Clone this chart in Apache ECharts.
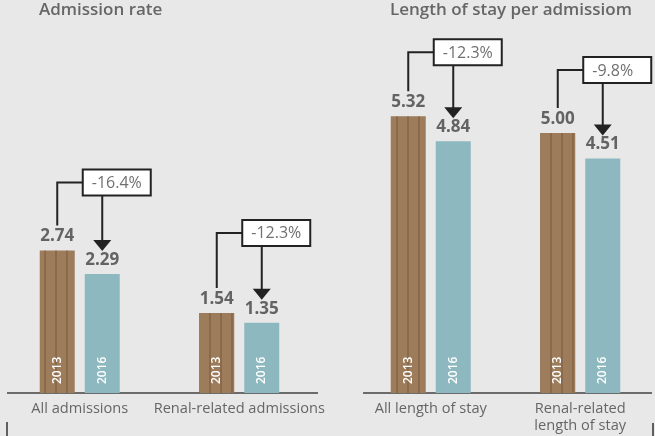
<!DOCTYPE html>
<html>
<head>
<meta charset="utf-8">
<script src="https://cdn.jsdelivr.net/npm/echarts@6/dist/echarts.min.js"></script>
<style>
  html, body { margin: 0; padding: 0; background: #e8e8e8; }
  #chart { width: 655px; height: 436px; }
</style>
</head>
<body>
<div id="chart"></div>
<script>
// 数据
var rateCategories = ["All admissions", "Renal-related admissions"];
var rate2013 = [2.74, 1.54];
var rate2016 = [2.29, 1.35];
var rateChange = ["-16.4%", "-12.3%"];

var stayCategories = ["All length of stay", "Renal-related\nlength of stay"];
var stay2013 = [5.32, 5.0];
var stay2016 = [4.84, 4.51];
var stayChange = ["-12.3%", "-9.8%"];

var years = ["2013", "2016"];

var FONT = "'Open Sans', 'DejaVu Sans', sans-serif";
var BROWN = "#9d7c5c";
var TEAL = "#8eb8bf";
var INK = "#222222";
var GREY = "#666666";
var BAR_W = 35;
var HALF = 22.5; // 两根柱子中心到类目中心的距离

// 标注框的高度（像素），每个面板一组
var liftLeft = [68, 80];
var liftRight = [64, 63];

function yearLabel(txt) {
  return {
    show: true,
    position: "insideBottom",
    rotate: 90,
    align: "left",
    verticalAlign: "middle",
    distance: 9,
    formatter: txt,
    color: "#ffffff",
    fontFamily: FONT,
    fontSize: 12,
    fontWeight: 600,
  };
}

function barPair(axis, a, b) {
  return [
    {
      name: years[0],
      type: "bar",
      xAxisIndex: axis,
      yAxisIndex: axis,
      barWidth: BAR_W,
      barGap: "28.6%",
      itemStyle: {
        color: BROWN,
        decal: {
          symbol: "rect",
          symbolSize: 1,
          color: "rgba(120,88,58,0.5)",
          dashArrayX: [2, 9],
          dashArrayY: [1, 0],
          rotation: 0,
        },
      },
      label: yearLabel(years[0]),
      data: a,
    },
    {
      name: years[1],
      type: "bar",
      xAxisIndex: axis,
      yAxisIndex: axis,
      barWidth: BAR_W,
      itemStyle: { color: TEAL },
      label: yearLabel(years[1]),
      data: b,
    },
  ];
}

// 数值 + 标注框 + 箭头
function callout(axis, a, b, change, lift) {
  var data = [];
  for (var i = 0; i < a.length; i++) {
    data.push([i, a[i], b[i]]);
  }
  return {
    type: "custom",
    xAxisIndex: axis,
    yAxisIndex: axis,
    z: 5,
    silent: true,
    encode: { x: 0, y: 1 },
    data: data,
    renderItem: function (params, api) {
      var idx = api.value(0);
      var p13 = api.coord([idx, api.value(1)]);
      var p16 = api.coord([idx, api.value(2)]);
      var cx = p13[0];
      var x13 = cx - HALF;
      var x16 = cx + HALF;
      var top13 = p13[1];
      var top16 = p16[1];
      var ly = top13 - lift[params.dataIndex];
      var boxX = cx + 3;
      var boxH = 26;
      var tip = top16 - 23;
      var lineStyle = { stroke: INK, lineWidth: 2, fill: null };
      var valStyle = {
        fill: "#636363",
        font: "bold 17px " + FONT,
        align: "center",
        verticalAlign: "middle",
      };
      return {
        type: "group",
        children: [
          {
            type: "text",
            style: Object.assign({ x: x13, y: top13 - 14, text: api.value(1).toFixed(2) }, valStyle),
          },
          {
            type: "text",
            style: Object.assign({ x: x16, y: top16 - 14, text: api.value(2).toFixed(2) }, valStyle),
          },
          {
            type: "polyline",
            shape: { points: [[x13, top13 - 25], [x13, ly], [boxX, ly]] },
            style: lineStyle,
          },
          {
            type: "line",
            shape: { x1: x16, y1: ly + boxH / 2, x2: x16, y2: tip - 8 },
            style: lineStyle,
          },
          {
            type: "polygon",
            shape: { points: [[x16 - 9, tip - 11], [x16 + 9, tip - 11], [x16, tip]] },
            style: { fill: INK },
          },
          {
            type: "rect",
            shape: { x: boxX, y: ly - boxH / 2, width: 68, height: boxH },
            style: { fill: "#ffffff", stroke: INK, lineWidth: 2 },
          },
          {
            type: "text",
            style: {
              x: boxX + 9,
              y: ly + 1,
              text: change[params.dataIndex],
              fill: "#707070",
              font: "16px " + FONT,
              align: "left",
              verticalAlign: "middle",
            },
          },
        ],
      };
    },
  };
}

function xAxis(idx, cats) {
  return {
    type: "category",
    gridIndex: idx,
    data: cats,
    axisLine: { show: false },
    axisTick: { show: false },
    axisLabel: {
      interval: 0,
      margin: 7,
      color: GREY,
      fontFamily: FONT,
      fontSize: 14.6,
      lineHeight: 17,
    },
  };
}

function yAxis(idx) {
  return {
    type: "value",
    gridIndex: idx,
    min: 0,
    max: 6,
    show: false,
    splitLine: { show: false },
  };
}

var myChart = echarts.init(document.getElementById("chart"));

myChart.setOption({
  backgroundColor: "#e8e8e8",
  animation: false,
  title: [
    {
      text: "Admission rate",
      left: 39,
      top: 2,
      padding: 0,
      textStyle: { color: GREY, fontFamily: FONT, fontSize: 17, fontWeight: 600 },
    },
    {
      text: "Length of stay per admissiom",
      left: 390,
      top: 2,
      padding: 0,
      textStyle: { color: GREY, fontFamily: FONT, fontSize: 17, fontWeight: 600 },
    },
  ],
  grid: [
    { left: 0, width: 319, top: 81, bottom: 43 },
    { left: 356, width: 300, top: 81, bottom: 43 },
  ],
  xAxis: [xAxis(0, rateCategories), xAxis(1, stayCategories)],
  yAxis: [yAxis(0), yAxis(1)],
  series: []
    .concat(barPair(0, rate2013, rate2016))
    .concat(barPair(1, stay2013, stay2016))
    .concat([callout(0, rate2013, rate2016, rateChange, liftLeft)])
    .concat([callout(1, stay2013, stay2016, stayChange, liftRight)]),
  graphic: [
    // 基线
    { type: "line", shape: { x1: 7, y1: 393, x2: 318, y2: 393 }, style: { stroke: "#6b6b6b", lineWidth: 2 } },
    { type: "line", shape: { x1: 363, y1: 393, x2: 652, y2: 393 }, style: { stroke: "#6b6b6b", lineWidth: 2 } },
    // 底部小刻度
    { type: "line", shape: { x1: 7, y1: 422, x2: 7, y2: 436 }, style: { stroke: "#333", lineWidth: 1.5 } },
    { type: "line", shape: { x1: 653, y1: 423, x2: 653, y2: 436 }, style: { stroke: "#333", lineWidth: 1.5 } },
  ],
});
</script>
</body>
</html>
